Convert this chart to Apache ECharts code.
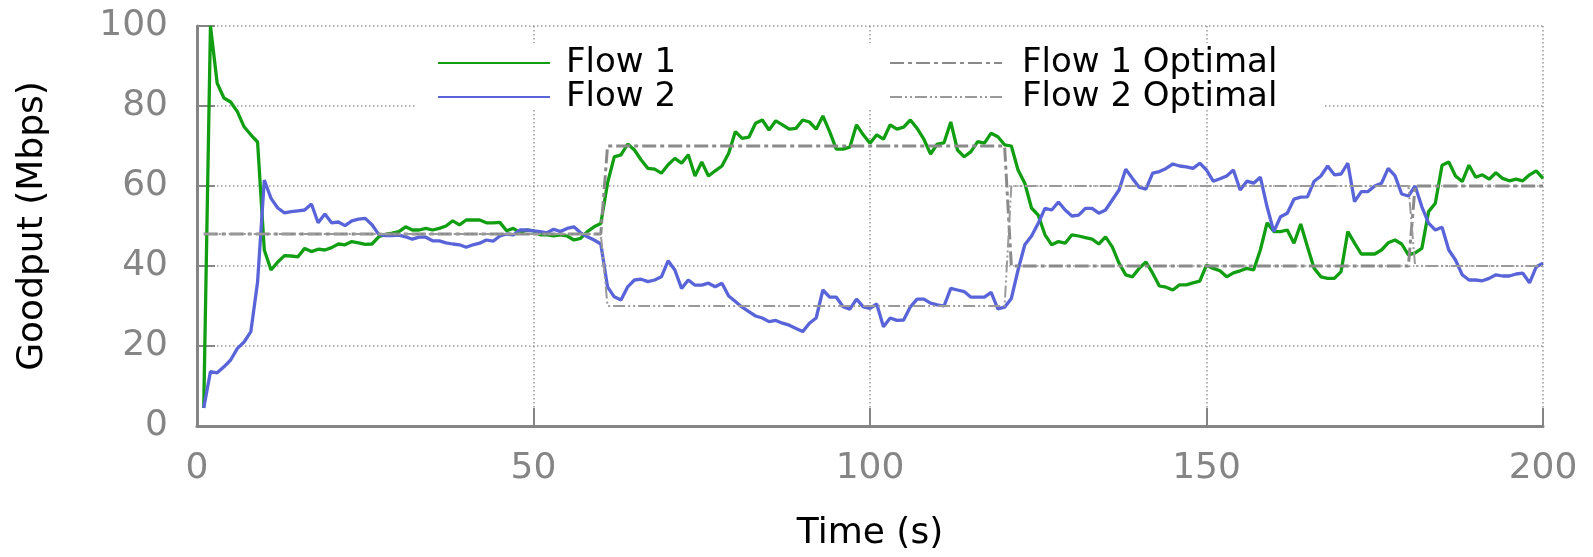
<!DOCTYPE html>
<html>
<head>
<meta charset="utf-8">
<title>Goodput</title>
<script src="https://cdn.jsdelivr.net/npm/echarts@6/dist/echarts.min.js"></script>
<style>
  html, body { margin: 0; padding: 0; background: #fff; }
  #chart { width: 1593px; height: 557px; }
</style>
</head>
<body>
<div id="chart"></div>
<script>
// first sample is at t = 1 s, one sample per second
const startTime = 1;

// Flow 1 goodput (Mbps)
const flow1 = [
  4.5, 100, 85.7, 82, 81, 78.6, 74.8, 72.8, 71, 44,
  39, 41, 42.6, 42.5, 42.3, 44.4, 43.6, 44.2, 44, 44.6,
  45.5, 45.3, 46.1, 45.8, 45.4, 45.5, 47.3, 47.9, 48.2, 48.6,
  49.8, 49, 49, 49.4, 49, 49.4, 50, 51.3, 50.3, 51.5,
  51.5, 51.5, 50.8, 50.8, 50.9, 48.8, 49.4, 48.3, 49, 48.8,
  47.8, 47.8, 47.5, 47.8, 47.5, 46.5, 46.9, 48.6, 49.8, 50.6,
  60.7, 67.3, 67.8, 70.5, 69, 66.5, 64.4, 64.2, 63.2, 65.3,
  66.9, 65.7, 67.8, 62.5, 66, 62.5, 63.8, 65, 68.2, 73.6,
  71.9, 72.2, 75.7, 76.5, 74, 76.3, 75.3, 74.2, 74.4, 76.5,
  76, 74.2, 77.5, 73.6, 69.2, 69.2, 69.7, 75.3, 72.8, 70.7,
  72.8, 71.7, 75.3, 74.2, 74.7, 76.5, 74.4, 71.7, 68, 70.5,
  70.8, 76, 69, 67.3, 68.6, 71.1, 70.7, 73.2, 72.3, 70.3,
  70, 64, 60.7, 54.5, 52.7, 47.8, 45.3, 46.1, 45.7, 47.8,
  47.5, 47.1, 46.7, 45.5, 47.3, 44.8, 40.7, 37.8, 37.3, 39.4,
  41, 38.2, 35, 34.7, 34, 35.3, 35.3, 35.8, 36.2, 40.2,
  39.4, 38.8, 37.3, 38.3, 38.8, 39.4, 39, 44, 50.8, 48.6,
  48.6, 49, 45.7, 50.5, 44.8, 39.4, 37.3, 36.9, 36.9, 38.6,
  48.6, 45.7, 43, 43, 43, 44, 45.8, 46.5, 45.5, 42.8,
  43.3, 44.4, 53.6, 55.7, 65.2, 66, 62.5, 61.1, 65.2, 62.2,
  62.8, 61.7, 63.3, 61.9, 61.3, 61.7, 61.3, 62.8, 63.8, 61.9
];

// Flow 2 goodput (Mbps)
const flow2 = [
  4.5, 13.6, 13.3, 14.8, 16.5, 19.4, 21, 23.6, 36, 61.5,
  56.9, 54.5, 53.3, 53.6, 53.8, 54, 55.5, 50.8, 53, 50.8,
  51, 50.1, 51.3, 51.7, 51.9, 50.3, 47.9, 47.6, 47.6, 47.7,
  47.3, 46.7, 47.2, 47.2, 46.3, 46.3, 45.8, 45.5, 45.3, 44.7,
  45.3, 45.7, 46.5, 46.2, 47.5, 48, 47.8, 49, 49, 48.8,
  48.6, 48.3, 49.2, 48.6, 49.4, 49.8, 48.3, 47.3, 46.5, 45.5,
  34.8, 32.3, 31.5, 34.8, 36.5, 36.7, 36.1, 36.5, 37.3, 41.3,
  39, 34.4, 36.5, 35.2, 35.2, 35.7, 34.8, 35.7, 32.5, 31.1,
  29.7, 28.6, 27.5, 27, 26.1, 26.4, 25.7, 25.2, 24.4, 23.6,
  25.7, 27, 34, 32.2, 32.2, 29.8, 29.2, 31.7, 29.8, 29.4,
  30.5, 24.8, 27, 26.4, 26.5, 29.8, 31.7, 31.7, 30.7, 30.3,
  30, 34.4, 34, 33.6, 32.2, 32.2, 32.2, 33.4, 29.3, 29.7,
  31.9, 39, 45.3, 47.5, 50.7, 54.4, 54, 56, 54, 52.5,
  52.7, 54.4, 54.4, 53.2, 54, 56.5, 59, 64.2, 61.9, 59.7,
  59.2, 63.2, 63.6, 64.4, 65.5, 65, 64.8, 64.4, 65.7, 64,
  61.2, 61.8, 62.5, 64, 59, 61.2, 60.7, 62.2, 54.8, 48.6,
  52.3, 53.2, 56.7, 57.2, 57.3, 61.2, 62.5, 65, 62.8, 63,
  65.7, 56.1, 58.6, 58.6, 60, 60.7, 64.4, 62.6, 58, 57.5,
  60, 54.8, 50.7, 49, 49.7, 44, 41.5, 37.8, 36.5, 36.5,
  36.3, 36.9, 37.8, 37.5, 37.5, 38, 38.2, 35.8, 39.8, 40.7
];

// optimal allocation, step points
const optTime = [1, 60, 61, 120, 121, 180, 181, 200];
const opt1 = [48, 48, 70, 70, 40, 40, 60, 60];
const opt2 = [48, 48, 30, 30, 60, 60, 40, 40];

// axis ticks
const xTicks = [0, 50, 100, 150, 200];
const yTicks = [0, 20, 40, 60, 80, 100];

const font = "DejaVu Sans";
const gray = "#858585";

const chart = echarts.init(document.getElementById("chart"));

const withTime = (arr) => arr.map((v, i) => [startTime + i, v]);
const stepPoints = (arr) => arr.map((v, i) => [optTime[i], v]);

const splitLineStyle = {
  show: true,
  lineStyle: { color: "#9a9a9a", width: 1.5, type: [1.5, 2.5] },
};

const legendText = {
  fontFamily: font,
  fontSize: 34,
  color: "#000",
  lineHeight: 33,
};

const option = {
  animation: false,
  backgroundColor: "#fff",

  // fixed plot box, don't let the axis names push it around
  grid: { left: 197, right: 50, top: 26, bottom: 131, outerBoundsMode: "none" },

  // white box behind the key, hides the grid lines
  graphic: [
    {
      type: "rect",
      z: 1,
      shape: { x: 415, y: 43, width: 908, height: 67 },
      style: { fill: "#fff" },
    },
  ],

  legend: [
    {
      orient: "vertical",
      left: 437,
      top: 46,
      padding: 0,
      itemGap: 0,
      itemWidth: 112,
      itemHeight: 14,
      z: 5,
      itemStyle: { opacity: 0 },
      data: ["Flow 1", "Flow 2"],
      textStyle: Object.assign({ padding: [0, 0, 0, 11] }, legendText),
    },
    {
      orient: "vertical",
      left: 889,
      top: 46,
      padding: 0,
      itemGap: 0,
      itemWidth: 112,
      itemHeight: 14,
      z: 5,
      itemStyle: { opacity: 0 },
      data: ["Flow 1 Optimal", "Flow 2 Optimal"],
      textStyle: Object.assign({ padding: [0, 0, 0, 15] }, legendText),
    },
  ],

  xAxis: {
    type: "value",
    min: xTicks[0],
    max: xTicks[xTicks.length - 1],
    interval: xTicks[1] - xTicks[0],
    name: "Time (s)",
    nameLocation: "middle",
    nameGap: 90,
    nameTextStyle: { fontFamily: font, fontSize: 36, color: "#000" },
    axisLine: { lineStyle: { color: gray, width: 3 } },
    axisTick: { inside: true, length: 18, lineStyle: { color: gray, width: 2 } },
    axisLabel: { margin: 25, fontFamily: font, fontSize: 36, color: gray },
    splitLine: splitLineStyle,
  },

  yAxis: {
    type: "value",
    min: yTicks[0],
    max: yTicks[yTicks.length - 1],
    interval: yTicks[1] - yTicks[0],
    name: "Goodput (Mbps)",
    nameLocation: "middle",
    nameGap: 146,
    nameTextStyle: { fontFamily: font, fontSize: 36, color: "#000" },
    axisLine: { show: true, lineStyle: { color: gray, width: 3 } },
    axisTick: { show: true, inside: true, length: 18, lineStyle: { color: gray, width: 2 } },
    axisLabel: { margin: 29, fontFamily: font, fontSize: 36, color: gray },
    splitLine: splitLineStyle,
  },

  series: [
    {
      name: "Flow 1",
      type: "line",
      data: withTime(flow1),
      symbol: "none",
      z: 2,
      lineStyle: { color: "#129e12", width: 3.3 },
      itemStyle: { color: "#129e12" },
    },
    {
      name: "Flow 2",
      type: "line",
      data: withTime(flow2),
      symbol: "none",
      z: 2,
      lineStyle: { color: "#5864d8", width: 3.3 },
      itemStyle: { color: "#5864d8" },
    },
    {
      name: "Flow 1 Optimal",
      type: "line",
      data: stepPoints(opt1),
      symbol: "none",
      z: 3,
      lineStyle: { color: "#8a8a8a", width: 3, type: [14, 4, 4, 4] },
      itemStyle: { color: "#8a8a8a" },
    },
    {
      name: "Flow 2 Optimal",
      type: "line",
      data: stepPoints(opt2),
      symbol: "none",
      z: 3,
      lineStyle: { color: "#9a9a9a", width: 2, type: [12, 3, 2, 3, 2, 3] },
      itemStyle: { color: "#9a9a9a" },
    },
  ],
};

chart.setOption(option);
</script>
</body>
</html>
